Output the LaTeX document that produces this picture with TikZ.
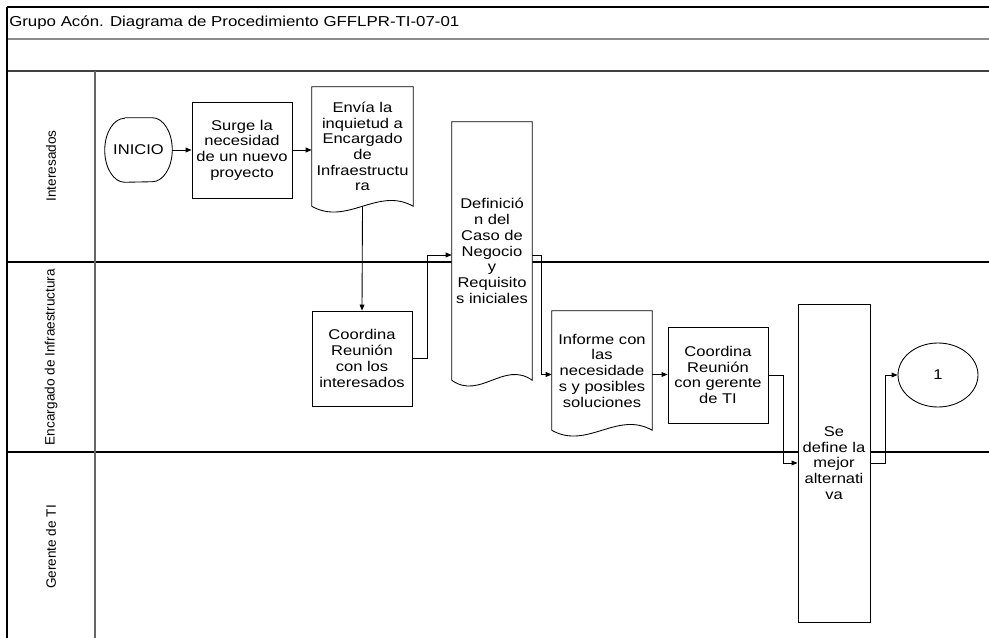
\documentclass[tikz,border=0pt]{standalone}
\usepackage{fontspec}
\setmainfont{Liberation Sans}[FakeStretch=1.17]
\newfontfamily\lanefont{Liberation Sans}
\usetikzlibrary{arrows.meta,shapes.geometric,calc}
\pgfdeclarelayer{lanes}
\pgfdeclarelayer{shapes}
\pgfsetlayers{lanes,shapes,main}
% outline of a document symbol around a named node
\newcommand\docoutline[1]{%
  \draw[shapeline, fill=white] (#1.south west) -- (#1.north west) -- (#1.north east) -- (#1.south east)
    .. controls ($(#1.south east)!0.35!(#1.south west)+(0,-20)$)
       and ($(#1.south east)!0.65!(#1.south west)+(0,20)$) .. (#1.south west);}
\begin{document}
\begin{tikzpicture}[x=0.75pt,y=-0.75pt,
  txt/.style={font=\fontsize{10.6}{11.8}\selectfont, align=center, inner sep=0pt},
  shapeline/.style={draw, line width=0.65pt},
  box/.style={txt, shapeline, fill=white},
  docnode/.style={txt},
  flow/.style={line width=0.65pt, -{Triangle[length=4.5pt,width=3.6pt]}},
  lanelabel/.style={font=\lanefont\fontsize{10.2}{12}\selectfont, rotate=90, inner sep=0pt}
]
\useasboundingbox (0,0) rectangle (989,638);

% table frame and swimlanes
\begin{pgfonlayer}{lanes}
  \draw[line width=1pt] (7,7) -- (989,7);
  \draw[black!45, line width=0.9pt] (7,39) -- (989,39);
  \draw[black!75, line width=1.3pt] (7,71) -- (989,71);
  \draw[line width=0.9pt] (7,262) -- (989,262);
  \draw[line width=0.9pt] (7,452) -- (989,452);
  \draw[line width=0.8pt] (7,7) -- (7,638);
  \draw[black!60, line width=0.8pt] (95,71) -- (95,638);
\end{pgfonlayer}

\node[anchor=west, inner sep=0pt, font=\fontsize{10.8}{12}\selectfont] (title) at (9,23)
  {Grupo Acón. Diagrama de Procedimiento GFFLPR-TI-07-01};

\node[lanelabel] (lane1) at (51,166) {Interesados};
\node[lanelabel] (lane2) at (51,357) {Encargado de Infraestructura};
\node[lanelabel] (lane3) at (51,547) {Gerente de TI};

% process steps
\node[txt, minimum width=50.25pt, minimum height=48pt] (inicio) at (138.5,150) {INICIO};
\draw[line width=0.65pt] ([xshift=15pt]inicio.north west) -- ([xshift=-15pt]inicio.north east)
  arc[start angle=90, end angle=-90, x radius=15pt, y radius=24pt]
  -- ([xshift=15pt]inicio.south west)
  arc[start angle=270, end angle=90, x radius=15pt, y radius=24pt];

\node[box, minimum width=75pt, minimum height=72pt] (surge) at (242,150)
  {Surge la\\necesidad\\de un nuevo\\proyecto};

\node[docnode, minimum width=75.75pt, minimum height=89.25pt] (envia) at (362.5,146.5)
  {Envía la\\inquietud a\\Encargado\\de\\Infraestructu\\ra};

\node[box, minimum width=75pt, minimum height=71.25pt] (coord1) at (362,358.5)
  {Coordina\\Reunión\\con los\\interesados};

\node[docnode, minimum width=60pt, minimum height=193.5pt] (defin) at (492,251)
  {Definició\\n del\\Caso de\\Negocio\\y\\Requisito\\s iniciales};

\node[docnode, minimum width=75pt, minimum height=89.25pt] (informe) at (602,370.5)
  {Informe con\\las\\necesidade\\s y posibles\\soluciones};

\node[box, minimum width=75pt, minimum height=72pt] (coord2) at (718,375)
  {Coordina\\Reunión\\con gerente\\de TI};

\node[box, minimum width=54pt, minimum height=238.5pt] (sedef) at (834,463)
  {Se\\define la\\mejor\\alternati\\va};

\node[ellipse, shapeline, txt, minimum width=60pt, minimum height=48pt] (conn1) at (938,375) {1};

\begin{pgfonlayer}{shapes}
  \docoutline{envia}
  \docoutline{defin}
  \docoutline{informe}
\end{pgfonlayer}

% connectors
\draw[flow] (inicio.east) -- (surge.west);
\draw[flow] (surge.east) -- (surge.east -| envia.west);
\draw[flow] (envia.south) -- (coord1.north);
\draw[flow] (coord1.east) -- ++(15,0) |- ([yshift=-3pt]defin.west);
\draw[flow] ([yshift=-3pt]defin.east) -- ++(9,0) |- ([yshift=-3pt]informe.west);
\draw[flow] ([yshift=-3pt]informe.east) -- ([yshift=-3pt]informe.east -| coord2.west);
\draw[flow] (coord2.east) -- ++(15,0) |- (sedef.west);
\draw[flow] (sedef.east) -- ++(15,0) |- (conn1.west);
\end{tikzpicture}
\end{document}
